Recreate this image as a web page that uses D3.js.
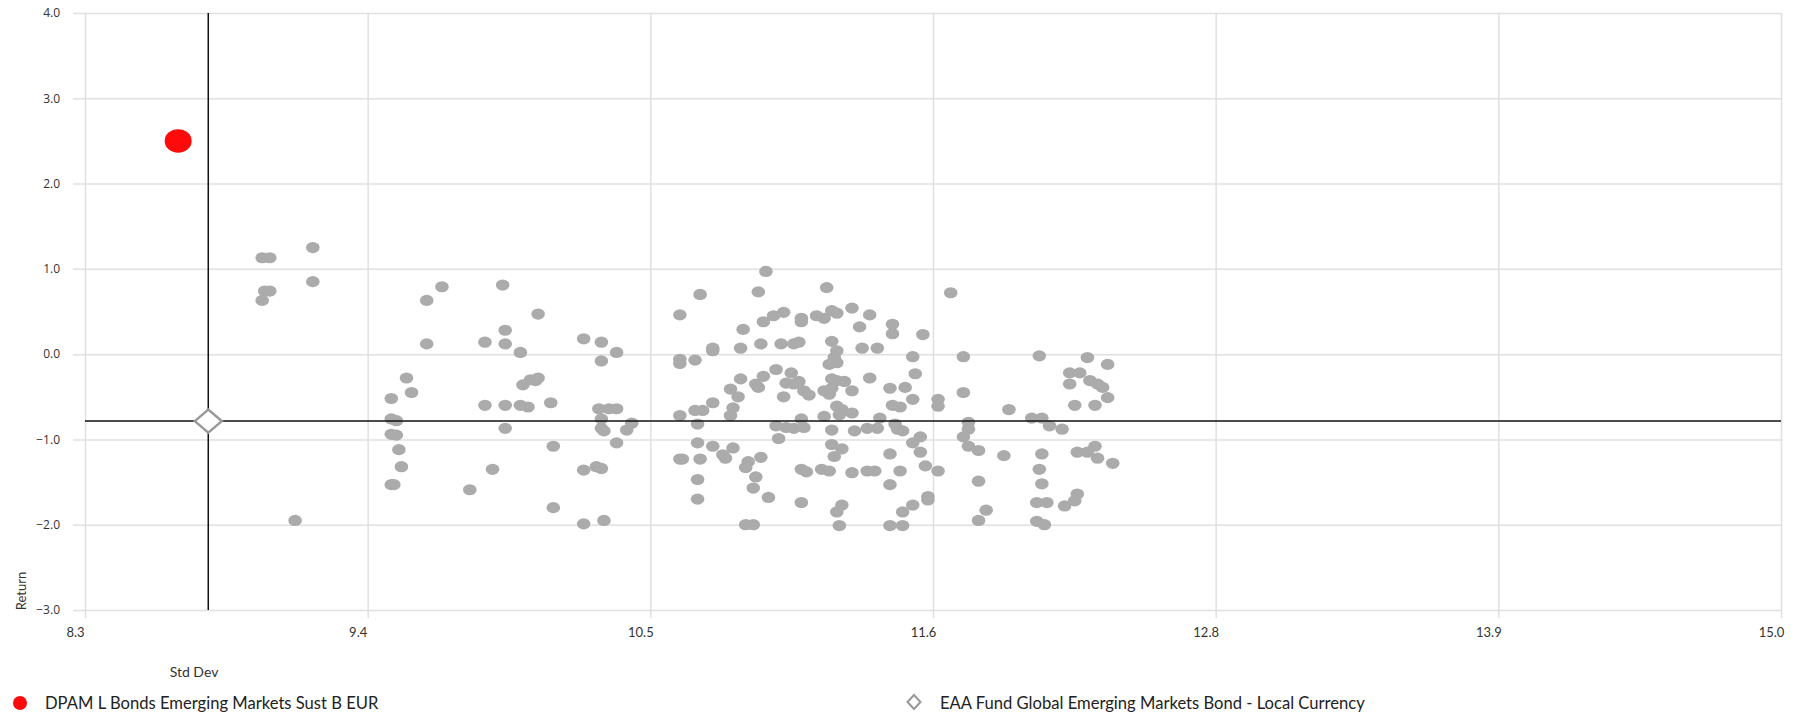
<!DOCTYPE html>
<html><head><meta charset="utf-8">
<script src="https://cdn.jsdelivr.net/npm/d3@7"></script>
<style>html,body{margin:0;padding:0;background:#fff;} svg{display:block}</style>
</head><body>
<svg id="chart" width="1801" height="713"></svg>
<script>
const peerStdDev = [
9.00,9.03,9.20,9.20,9.01,9.03,9.00,9.13,9.65,9.71,9.65,9.57,9.59,9.51,9.51,9.53,9.51,9.53,9.54,9.55,
9.51,9.52,9.82,9.91,9.88,9.95,9.96,9.96,10.02,10.09,9.88,9.96,10.02,10.05,9.96,10.03,10.06,10.09,10.14,10.15,
10.15,10.27,10.34,10.40,10.34,10.33,10.37,10.40,10.34,10.34,10.35,10.46,10.44,10.40,10.27,10.32,10.34,10.27,10.35,10.08,
10.73,10.65,10.96,10.90,10.98,10.78,10.78,10.89,10.97,10.65,10.65,10.71,10.89,10.98,10.95,10.96,10.85,10.88,10.78,10.71,
10.74,10.86,10.85,10.65,10.72,10.72,10.78,10.82,10.83,10.86,10.65,10.66,10.73,10.92,10.91,10.97,10.95,10.72,10.94,10.72,
10.91,10.94,10.99,
11.23,11.72,11.02,11.06,11.13,11.13,11.19,11.22,11.25,11.27,11.33,11.40,11.36,11.49,11.49,11.61,11.05,11.10,11.12,11.25,
11.27,11.26,11.27,11.24,11.37,11.43,11.57,11.03,11.09,11.07,11.12,11.10,11.06,11.14,11.16,11.25,11.27,11.30,11.25,11.22,
11.24,11.33,11.40,11.58,11.54,11.48,11.67,11.57,
11.49,11.52,11.67,11.27,11.29,11.33,11.28,11.22,11.13,11.44,11.03,11.07,11.10,11.14,11.25,11.34,11.39,11.43,11.50,11.51,
11.53,11.04,11.25,11.29,11.26,11.48,11.60,11.57,11.60,11.13,11.15,11.21,11.24,11.33,11.39,11.42,11.52,11.62,11.67,11.48,
11.00,11.13,11.29,11.27,11.63,11.63,11.57,11.53,11.28,11.48,11.53,
11.77,11.77,11.79,11.79,11.77,11.79,11.83,11.83,11.86,11.83,
12.07,12.26,12.34,12.19,12.23,12.19,12.27,12.30,12.32,12.34,12.21,12.29,11.95,12.04,12.08,12.11,12.16,11.93,12.08,12.07,
12.08,12.22,12.26,12.29,12.30,12.36,12.06,12.10,12.22,12.21,12.17,12.06,12.09
];
const peerReturn = [
1.13,1.13,1.25,0.85,0.74,0.74,0.63,-1.95,0.63,0.79,0.12,-0.28,-0.45,-0.52,-0.76,-0.78,-0.94,-0.95,-1.12,-1.32,
-1.53,-1.53,-1.59,-1.35,0.14,0.81,0.28,0.12,0.02,0.47,-0.60,-0.60,-0.60,-0.62,-0.87,-0.36,-0.30,-0.28,-0.57,-1.08,
-1.80,0.18,0.14,0.02,-0.08,-0.64,-0.64,-0.64,-0.76,-0.87,-0.90,-0.81,-0.89,-1.04,-1.36,-1.32,-1.34,-1.99,-1.95,-0.31,
0.70,0.46,0.73,0.29,0.38,0.07,0.04,0.07,0.12,-0.06,-0.11,-0.07,-0.29,-0.26,-0.35,-0.39,-0.41,-0.50,-0.57,-0.66,
-0.66,-0.63,-0.72,-0.72,-0.82,-1.04,-1.08,-1.18,-1.22,-1.10,-1.23,-1.23,-1.23,-1.26,-1.33,-1.21,-1.44,-1.47,-1.57,-1.70,
-2.00,-2.00,0.97,
0.78,0.72,0.45,0.49,0.42,0.38,0.45,0.42,0.51,0.48,0.54,0.46,0.32,0.35,0.24,0.23,0.12,0.12,0.14,0.15,
0.04,-0.04,-0.10,-0.12,0.07,0.07,-0.03,-0.18,-0.22,-0.34,-0.32,-0.35,-0.50,-0.43,-0.48,-0.29,-0.31,-0.32,-0.40,-0.43,
-0.47,-0.43,-0.28,-0.23,-0.39,-0.40,-0.53,-0.53,
-0.60,-0.62,-0.61,-0.61,-0.65,-0.69,-0.71,-0.73,-0.76,-0.75,-0.84,-0.86,-0.87,-0.86,-0.89,-0.90,-0.87,-0.87,-0.82,-0.88,
-0.90,-0.99,-1.06,-1.11,-1.20,-1.17,-0.97,-1.04,-1.15,-1.35,-1.38,-1.35,-1.37,-1.39,-1.37,-1.37,-1.37,-1.31,-1.37,-1.53,
-1.68,-1.74,-1.77,-1.85,-1.67,-1.71,-1.77,-1.85,-2.01,-2.01,-2.01,
-0.03,-0.45,-0.80,-0.88,-0.97,-1.08,-1.13,-1.49,-1.83,-1.95,
-0.02,-0.04,-0.12,-0.22,-0.22,-0.35,-0.31,-0.35,-0.39,-0.51,-0.60,-0.60,-0.65,-0.75,-0.75,-0.84,-0.88,-1.19,-1.17,-1.35,
-1.52,-1.15,-1.15,-1.08,-1.22,-1.28,-1.74,-1.74,-1.64,-1.72,-1.78,-1.96,-2.00
];
const fundName = "DPAM L Bonds Emerging Markets Sust B EUR";
const fundStdDev = [8.668];
const fundReturn = [2.50];
const benchName = "EAA Fund Global Emerging Markets Bond - Local Currency";
const benchStdDev = [8.787];
const benchReturn = [-0.785];
const xTickLabels = ["8.3","9.4","10.5","11.6","12.8","13.9","15.0"];
const yTickValues = [-3,-2,-1,0,1,2,3,4];
const xTitle = "Std Dev";
const yTitle = "Return";

const svg = d3.select("#chart");
const L = 85, R = 1781, T = 13, B = 610;
const x = d3.scaleLinear().domain([8.3, 15.0]).range([L, R]);
const y = d3.scaleLinear().domain([-3, 4]).range([B, T]);
const xTickValues = d3.range(xTickLabels.length).map(i => 8.3 + i * (15.0 - 8.3) / (xTickLabels.length - 1));

// x grid + labels
const gx = svg.append("g").attr("transform", `translate(0,${B + 8})`)
  .call(d3.axisBottom(x).tickValues(xTickValues).tickSizeInner(-(B + 8 - T)).tickSizeOuter(0).tickPadding(10)
    .tickFormat((d, i) => xTickLabels[i]));
gx.select(".domain").remove();
gx.selectAll("line").attr("stroke", "#e0e0e0").attr("stroke-width", 1.5);
gx.selectAll("text").attr("dx", -10).attr("fill", "#333").style("font-family", "Lato, 'Open Sans', sans-serif").style("font-size", "13px");

// y grid + labels
const gy = svg.append("g").attr("transform", `translate(${L - 12},0)`)
  .call(d3.axisLeft(y).tickValues(yTickValues).tickSizeInner(-(R - L + 12)).tickSizeOuter(0).tickPadding(13)
    .tickFormat(d3.format(".1f")));
gy.select(".domain").remove();
gy.selectAll("line").attr("stroke", "#e0e0e0").attr("stroke-width", 1.5);
gy.selectAll("text").attr("fill", "#333").style("font-family", "'Open Sans', sans-serif").style("font-size", "12px");

// peers
const peers = peerStdDev.map((d, i) => ({sd: d, ret: peerReturn[i]}));
svg.append("g").selectAll("ellipse").data(peers).join("ellipse")
  .attr("cx", d => x(d.sd)).attr("cy", d => y(d.ret))
  .attr("rx", 6.8).attr("ry", 5.6).attr("fill", "#ababab");

// reference lines at benchmark
svg.append("line").attr("x1", x(benchStdDev[0])).attr("x2", x(benchStdDev[0]))
  .attr("y1", y(4)).attr("y2", y(-3)).attr("stroke", "#111").attr("stroke-width", 1.5);
svg.append("line").attr("x1", x(8.3)).attr("x2", x(15.0))
  .attr("y1", y(benchReturn[0])).attr("y2", y(benchReturn[0])).attr("stroke", "#111").attr("stroke-width", 1.5);

// fund
svg.append("g").selectAll("ellipse").data(fundStdDev.map((d, i) => ({sd: d, ret: fundReturn[i]}))).join("ellipse")
  .attr("cx", d => x(d.sd)).attr("cy", d => y(d.ret))
  .attr("rx", 13.5).attr("ry", 11.8).attr("fill", "#ff0a0a");

// benchmark diamond
const diamond = (cx, cy, hw, hh) => `M${cx - hw},${cy}L${cx},${cy - hh}L${cx + hw},${cy}L${cx},${cy + hh}Z`;
svg.append("g").selectAll("path").data(benchStdDev.map((d, i) => ({sd: d, ret: benchReturn[i]}))).join("path")
  .attr("d", d => diamond(x(d.sd), y(d.ret), 13.5, 11.5))
  .attr("fill", "#fff").attr("stroke", "#999").attr("stroke-width", 2.5);

// axis titles
svg.append("text").attr("transform", "translate(26,591) rotate(-90)").attr("text-anchor", "middle")
  .attr("fill", "#333").style("font-family", "Lato, sans-serif").style("font-size", "13px").text(yTitle);
svg.append("text").attr("x", 194).attr("y", 677).attr("text-anchor", "middle")
  .attr("fill", "#333").style("font-family", "Lato, sans-serif").style("font-size", "14px").text(xTitle);

// legend
svg.append("circle").attr("cx", 20).attr("cy", 703).attr("r", 7).attr("fill", "#ff0a0a");
svg.append("text").attr("x", 45).attr("y", 709).attr("fill", "#222")
  .style("font-family", "Lato, sans-serif").style("font-size", "16.6px").text(fundName);
svg.append("path").attr("d", diamond(914, 702, 6.5, 7)).attr("fill", "#fff").attr("stroke", "#999").attr("stroke-width", 2);
svg.append("text").attr("x", 940).attr("y", 709).attr("fill", "#222")
  .style("font-family", "Lato, sans-serif").style("font-size", "16.6px").text(benchName);
</script>
</body></html>
